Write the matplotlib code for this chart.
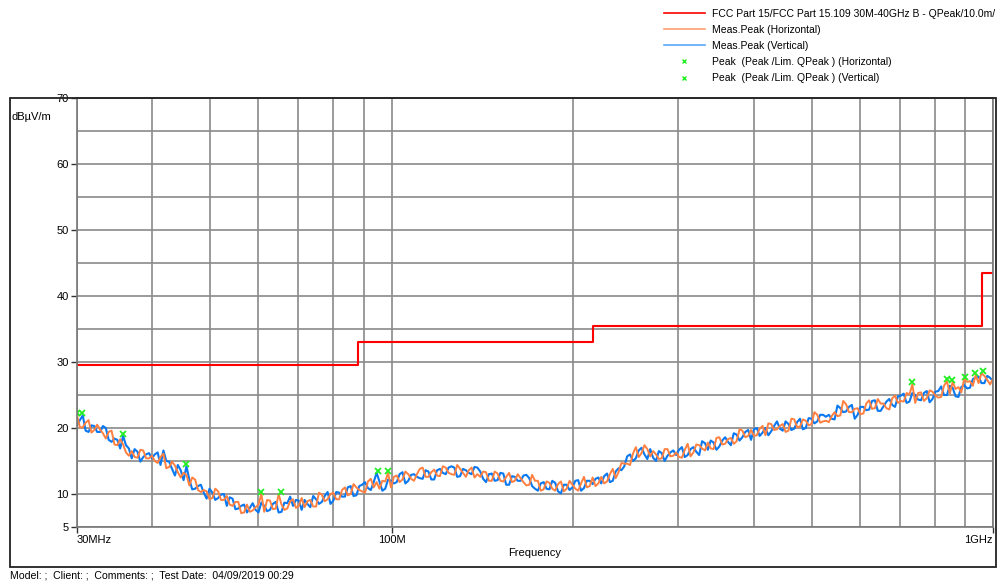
"""EMV-Messung: Abgestrahlte Stoerung 30 MHz - 1 GHz mit FCC-Grenzwert."""

import numpy as np
import matplotlib
matplotlib.use("Agg")
import matplotlib.pyplot as plt
from matplotlib.patches import Rectangle
from matplotlib.lines import Line2D
from matplotlib.ticker import FixedLocator, NullFormatter

plt.rcParams["font.family"] = ["Liberation Sans", "DejaVu Sans"]
plt.rcParams["font.size"] = 8

# Grenzwert FCC Part 15 Klasse B (Stufen)
limit_freq = [30, 88, 216, 960, 1000]
limit_level = [29.5, 33.0, 35.5, 43.5, 43.5]

# Messkurven (Peak); Sweep logarithmisch 30 MHz .. 1 GHz
peak_h = [
    21.9, 20.1, 20.1, 20.8, 21.2, 19.3, 19.7, 20.5, 19.8, 19.2, 18.4, 19.4, 19.6, 17.5, 17.4, 18.3, 17.5, 16.3, 15.8, 16.5,
    15.6, 15.5, 16.7, 16.6, 15.4, 15.4, 15.8, 15.0, 14.7, 15.6, 16.1, 13.9, 14.1, 14.9, 14.3, 13.3, 12.5, 13.2, 12.9, 11.3,
    12.5, 12.2, 10.6, 10.3, 10.6, 10.4, 9.2, 9.4, 10.8, 10.4, 9.1, 9.1, 9.7, 8.4, 8.2, 8.8, 8.8, 7.1, 7.2, 8.4,
    7.3, 7.5, 8.0, 8.4, 10.0, 7.3, 9.1, 9.0, 7.7, 7.8, 10.0, 8.4, 7.6, 7.8, 8.9, 9.2, 7.9, 8.2, 9.4, 8.0,
    8.9, 9.1, 8.1, 8.1, 10.2, 9.9, 8.9, 9.2, 10.0, 10.2, 9.2, 9.2, 10.6, 11.0, 9.8, 10.0, 11.5, 11.0, 10.6, 10.4,
    10.2, 11.9, 12.3, 11.0, 11.8, 10.8, 12.0, 11.9, 13.2, 11.0, 12.6, 12.8, 11.8, 12.2, 13.4, 13.0, 12.3, 12.0, 13.0, 13.8,
    14.0, 12.6, 12.6, 13.3, 13.7, 12.8, 12.7, 14.2, 14.0, 13.2, 13.0, 12.9, 14.4, 13.8, 13.2, 12.6, 13.6, 14.0, 12.5, 13.0,
    12.6, 13.4, 13.3, 12.0, 12.0, 13.4, 13.1, 12.0, 11.9, 12.6, 13.2, 11.8, 12.0, 13.0, 12.4, 11.8, 11.3, 11.4, 12.9, 12.0,
    12.0, 10.5, 10.7, 11.9, 11.7, 10.8, 10.5, 11.5, 11.9, 10.4, 10.8, 12.0, 11.4, 10.8, 10.5, 11.6, 12.6, 11.0, 11.2, 12.5,
    11.2, 11.6, 12.6, 11.6, 11.9, 13.0, 13.8, 12.4, 13.3, 14.7, 14.6, 14.6, 14.4, 16.1, 17.1, 15.6, 16.2, 17.4, 16.8, 15.7,
    16.5, 16.0, 15.3, 15.4, 16.8, 16.8, 15.7, 15.8, 16.3, 15.6, 15.5, 16.7, 17.6, 15.7, 16.3, 17.5, 17.4, 16.9, 16.6, 17.8,
    16.9, 16.8, 18.5, 18.6, 17.5, 17.6, 18.3, 18.5, 17.6, 18.0, 19.8, 19.6, 18.6, 18.8, 19.7, 18.8, 18.9, 19.9, 20.3, 18.9,
    20.7, 20.6, 19.7, 19.8, 20.3, 20.6, 19.4, 19.6, 21.4, 21.3, 20.1, 20.2, 21.3, 21.1, 20.4, 20.6, 22.4, 22.0, 20.8, 21.0,
    21.1, 20.9, 21.8, 22.4, 21.8, 21.9, 24.1, 23.6, 22.4, 22.4, 22.9, 23.0, 22.1, 22.2, 23.7, 24.2, 22.9, 23.0, 24.4, 23.7,
    23.7, 23.0, 22.8, 24.5, 24.9, 23.8, 24.1, 24.0, 25.3, 25.1, 26.6, 23.8, 25.3, 25.4, 24.1, 24.5, 25.7, 25.5, 24.9, 24.6,
    24.7, 26.4, 27.1, 25.2, 27.0, 25.9, 26.2, 25.4, 27.4, 27.0, 27.1, 26.4, 28.0, 26.8, 28.3, 27.9, 27.3, 26.6, 27.5,
]
peak_v = [
    20.4, 21.2, 21.9, 19.6, 19.4, 20.4, 20.3, 19.4, 19.4, 20.3, 20.0, 18.2, 17.9, 18.4, 18.2, 16.9, 18.8, 17.4, 16.9, 15.4,
    16.8, 16.4, 14.9, 15.6, 16.0, 16.2, 15.4, 16.0, 16.3, 14.4, 16.6, 15.0, 14.9, 13.8, 12.8, 14.4, 13.6, 12.1, 14.2, 12.2,
    10.7, 10.8, 11.2, 11.4, 10.2, 9.3, 10.8, 10.2, 9.1, 9.4, 9.9, 10.0, 8.2, 9.5, 9.3, 7.7, 7.8, 8.2, 8.4, 7.2,
    7.9, 8.6, 7.6, 7.2, 8.7, 8.2, 7.4, 7.6, 8.5, 8.8, 7.2, 7.3, 8.7, 8.6, 9.6, 8.2, 9.1, 9.0, 7.6, 9.1,
    8.5, 8.0, 9.7, 9.2, 8.5, 8.8, 9.7, 10.3, 8.5, 9.0, 10.3, 10.2, 9.6, 9.6, 11.0, 11.2, 9.7, 9.8, 11.2, 11.4,
    11.8, 10.9, 10.6, 11.8, 13.2, 11.9, 10.5, 10.8, 12.2, 12.0, 11.6, 11.8, 13.0, 13.3, 11.6, 12.0, 12.9, 13.0, 12.6, 12.4,
    12.3, 13.6, 13.4, 12.2, 12.2, 13.6, 13.8, 13.2, 13.0, 14.0, 14.2, 14.0, 12.6, 12.7, 13.8, 13.6, 13.2, 13.0, 14.1, 14.0,
    13.4, 12.3, 11.8, 13.0, 13.1, 12.0, 12.1, 13.2, 13.1, 11.4, 11.4, 12.7, 12.6, 12.0, 12.0, 12.8, 12.9, 12.4, 11.2, 10.8,
    10.5, 11.6, 11.8, 10.8, 10.7, 12.0, 11.7, 10.4, 10.1, 11.4, 11.4, 10.6, 11.0, 12.0, 12.1, 10.5, 10.9, 12.0, 12.0, 11.5,
    12.3, 12.5, 11.6, 12.7, 13.1, 11.8, 12.0, 13.4, 13.9, 13.6, 14.2, 15.7, 16.0, 15.0, 15.4, 16.6, 17.0, 16.0, 15.3, 16.8,
    15.5, 15.0, 16.5, 16.2, 15.0, 15.8, 16.3, 16.6, 15.9, 16.7, 17.1, 15.6, 15.9, 16.8, 17.1, 16.4, 15.9, 18.0, 17.7, 16.7,
    18.1, 17.8, 16.7, 17.2, 18.1, 18.6, 17.9, 17.4, 19.2, 19.0, 18.1, 18.6, 19.4, 19.7, 18.2, 19.8, 20.0, 18.8, 19.3, 20.0,
    18.9, 19.5, 20.3, 21.0, 19.9, 19.6, 21.0, 20.6, 19.7, 19.9, 20.9, 21.4, 19.8, 20.0, 21.5, 21.4, 20.7, 21.0, 22.0, 22.0,
    21.7, 22.0, 21.4, 21.3, 23.4, 23.0, 22.4, 22.5, 23.2, 23.5, 21.4, 22.0, 23.2, 23.2, 22.7, 22.8, 24.1, 24.2, 22.6, 22.6,
    23.3, 24.0, 24.4, 23.5, 23.2, 24.8, 24.9, 25.2, 23.8, 24.0, 25.3, 25.0, 24.3, 24.2, 25.3, 25.6, 23.9, 24.4, 25.5, 25.6,
    26.3, 25.0, 25.0, 26.4, 26.1, 24.8, 24.7, 26.2, 26.5, 26.0, 26.1, 27.4, 27.7, 27.8, 26.8, 26.8, 27.9, 27.6, 27.1,
]
sweep_freq = np.geomspace(30, 1000, len(peak_h))

# Peak-Marker
mark_h_freq = [30.0, 60.7, 65.5, 98.7, 733, 838, 855, 898, 933, 962]
mark_h_val = [22.2, 10.3, 10.3, 13.5, 26.9, 27.4, 27.3, 27.7, 28.3, 28.6]
mark_v_freq = [30.6, 35.8, 45.5, 95.0]
mark_v_val = [22.2, 19.1, 14.5, 13.5]

C_RED = "#ff0000"
C_ORANGE = "#ff8040"
C_BLUE = "#0a78f0"
C_GREEN = "#22ee22"

fig = plt.figure(figsize=(9.97, 5.85), dpi=100)
ax = fig.add_axes([77 / 997, 58 / 585, 916 / 997, 429 / 585])

ax.plot(sweep_freq, peak_v, color=C_BLUE, lw=1.5)
ax.plot(sweep_freq, peak_h, color=C_ORANGE, lw=1.4)
ax.step(limit_freq, limit_level, where="post", color=C_RED, lw=1.5)
ax.plot(mark_h_freq, mark_h_val, "x", color=C_GREEN, ms=4.5, mew=1.3)
ax.plot(mark_v_freq, mark_v_val, "x", color=C_GREEN, ms=4.5, mew=1.3)

ax.set_xscale("log")
ax.set_xlim(30, 1000)
ax.set_ylim(5, 70)

# Achsen / Gitter
ax.xaxis.set_major_locator(FixedLocator([30, 100, 1000]))
ax.xaxis.set_minor_locator(FixedLocator([40, 50, 60, 70, 80, 90,
                                         200, 300, 400, 500, 600, 700, 800, 900]))
ax.xaxis.set_minor_formatter(NullFormatter())
ax.set_xticklabels(["30MHz", "100M", "1GHz"])
xl = ax.get_xticklabels()
xl[0].set_ha("left")
xl[2].set_ha("right")
ax.yaxis.set_major_locator(FixedLocator([5, 10, 20, 30, 40, 50, 60, 70]))
ax.yaxis.set_minor_locator(FixedLocator([15, 25, 35, 45, 55, 65]))
ax.tick_params(axis="both", which="major", length=4, width=1, color="#333333",
               labelsize=8, pad=2)
ax.tick_params(axis="both", which="minor", length=0)
ax.grid(True, which="both", color="#8a8a8a", lw=1.2)
ax.set_axisbelow(True)
for s in ax.spines.values():
    s.set_color("#777777")
    s.set_linewidth(1.2)

ax.set_xlabel("Frequency", fontsize=8, labelpad=2)

fig.text(12 / 997, 1 - 117 / 585, "dB\u00b5V/m", fontsize=8, va="center")
fig.text(10 / 997, 1 - 576 / 585,
         "Model: ;  Client: ;  Comments: ;  Test Date:  04/09/2019 00:29",
         fontsize=7.6, va="center")

# Rahmen
fig.add_artist(Rectangle((10 / 997, 18 / 585), 986 / 997, 469 / 585,
                         transform=fig.transFigure, fill=False,
                         edgecolor="#222222", lw=1.3))

# Legende
handles = [
    Line2D([], [], color=C_RED, lw=1.2),
    Line2D([], [], color="#ffa070", lw=1.2),
    Line2D([], [], color="#5aa8f8", lw=1.2),
    Line2D([], [], ls="none", marker="x", color=C_GREEN, ms=3.5, mew=1),
    Line2D([], [], ls="none", marker="x", color=C_GREEN, ms=3.5, mew=1),
]
labels = [
    "FCC Part 15/FCC Part 15.109 30M-40GHz B - QPeak/10.0m/",
    "Meas.Peak (Horizontal)",
    "Meas.Peak (Vertical)",
    "Peak  (Peak /Lim. QPeak ) (Horizontal)",
    "Peak  (Peak /Lim. QPeak ) (Vertical)",
]
fig.legend(handles, labels, loc="upper left",
           bbox_to_anchor=(664 / 997, 1 - 9 / 585), frameon=False,
           fontsize=7.5, handlelength=3.9, handletextpad=0.7,
           labelspacing=0.58, borderpad=0, borderaxespad=0)

fig.savefig("out.png", dpi=100)
